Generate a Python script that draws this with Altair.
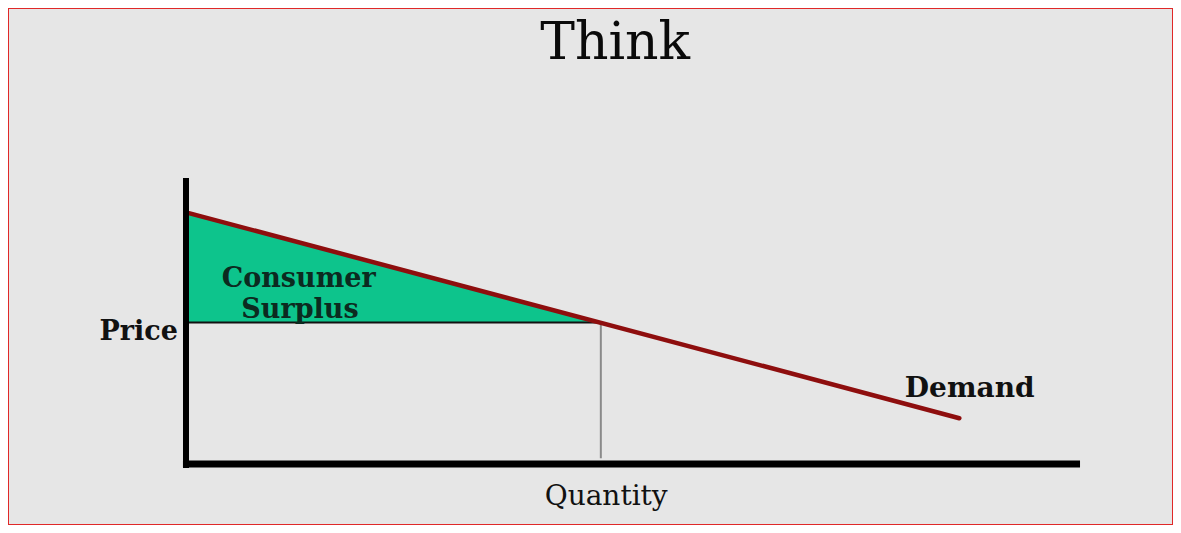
import altair as alt
import pandas as pd

# ---- data (quantity / price units) ----
demand_q = [0, 86.5]
demand_p = [88, 16]
eq_q = 46.4          # equilibrium quantity
eq_p = 49.5          # market price
axis_q_max = 100
axis_p_max = 100

labels = ["Think", "Consumer", "Surplus", "Price", "Quantity", "Demand"]
label_q = [48.0, 12.6, 12.75, -0.9, 47.0, 80.4]
label_p = [141.6, 61.9, 51.0, 43.4, -14.3, 23.4]

# ---- scales: plot area fills the page ----
W, H = 1165, 517
xs = alt.Scale(domain=[-19.91, 110.40], range=[0, W], nice=False, zero=False)
ys = alt.Scale(domain=[-21.33, 159.44], range=[H, 0], nice=False, zero=False)
noax = None

def X(f):
    return alt.X(f, type="quantitative", scale=xs, axis=noax)

def Y(f):
    return alt.Y(f, type="quantitative", scale=ys, axis=noax)

surplus = pd.DataFrame({
    "q": [demand_q[0], eq_q],
    "p": [demand_p[0], eq_p],
    "p2": [eq_p, eq_p],
})
area = alt.Chart(surplus).mark_area(color="#0dc48c", opacity=1).encode(
    x=X("q"), y=Y("p"), y2="p2"
)

price_line = alt.Chart(pd.DataFrame({"q": [0], "q2": [eq_q], "p": [eq_p]})).mark_rule(
    color="#111111", strokeWidth=2
).encode(x=X("q"), x2="q2", y=Y("p"))

qty_line = alt.Chart(pd.DataFrame({"q": [eq_q], "p": [eq_p], "p2": [2]})).mark_rule(
    color="#8a8a8a", strokeWidth=2
).encode(x=X("q"), y=Y("p"), y2="p2")

demand = alt.Chart(pd.DataFrame({"q": demand_q, "p": demand_p})).mark_line(
    color="#8e0e0e", strokeWidth=4.5, strokeCap="round"
).encode(x=X("q"), y=Y("p"))

y_axis = alt.Chart(pd.DataFrame({"q": [0], "p": [-1.4], "p2": [axis_p_max]})).mark_rule(
    color="#000000", strokeWidth=6
).encode(x=X("q"), y=Y("p"), y2="p2")

x_axis = alt.Chart(pd.DataFrame({"q": [-0.34], "q2": [axis_q_max], "p": [0]})).mark_rule(
    color="#000000", strokeWidth=7
).encode(x=X("q"), x2="q2", y=Y("p"))

lab = pd.DataFrame({"t": labels, "q": label_q, "p": label_p})

def text(name, color="#111111", **kw):
    return alt.Chart(lab[lab.t == name]).mark_text(
        font="DejaVu Serif", color=color, baseline="alphabetic", **kw
    ).encode(x=X("q"), y=Y("p"), text="t")

title = text("Think", fontSize=52, align="center", color="#0a0a0a")
cons = text("Consumer", fontSize=27, fontWeight="bold", align="center", color="#0c2a20")
surp = text("Surplus", fontSize=27, fontWeight="bold", align="center", color="#0c2a20")
price = text("Price", fontSize=27, fontWeight="bold", align="right")
qty = text("Quantity", fontSize=28, align="center")
dem = text("Demand", fontSize=28, fontWeight="bold", align="left")

chart = alt.layer(
    area, price_line, qty_line, demand, y_axis, x_axis,
    title, cons, surp, price, qty, dem
).properties(
    width=W, height=H, padding=0, autosize=alt.AutoSizeParams(type="none"),
    background="#e6e6e6"
).configure_view(
    fill="#e6e6e6", stroke="#e02828", strokeWidth=2
)

chart.save("out.html", embed_options={"renderer": "svg", "actions": False})
